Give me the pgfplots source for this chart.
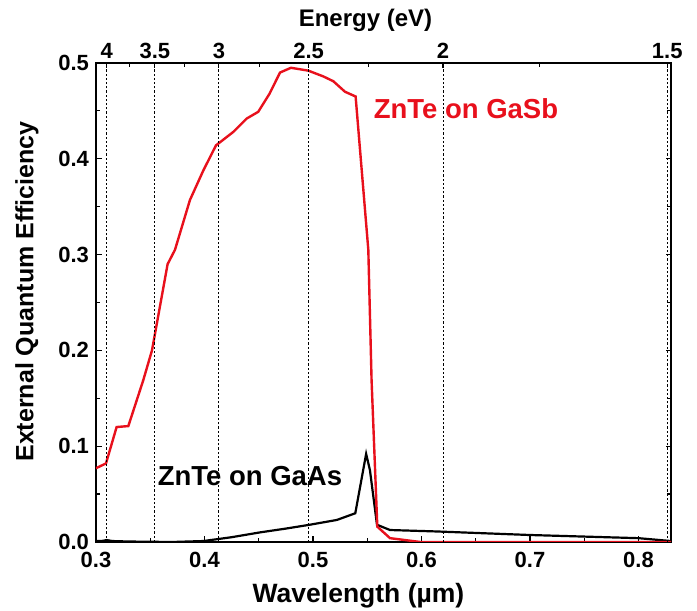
\documentclass[border=0pt]{standalone}
\usepackage{pgfplots}
\pgfplotsset{compat=1.18}
\usepackage{fontspec}
\setmainfont{Liberation Sans}
\definecolor{redline}{RGB}{232,16,28}
\begin{document}
\begin{tikzpicture}
\pgfplotsset{every axis/.append style={
  width=575pt, height=479pt, scale only axis,
  xmin=0.3, xmax=0.83,
  line width=1.5pt,
  tick style={line width=1.2pt, black},
  major tick length=5.5pt, minor tick length=4pt,
  tick align=inside,
  /pgf/number format/assume math mode=true,
  tick label style={font=\fontsize{22}{26}\selectfont\bfseries},
}}
\begin{axis}[
  name=ax,
  ymin=0, ymax=0.5,
  xtick={0.3,0.4,0.5,0.6,0.7,0.8},
  xticklabels={0.3,0.4,0.5,0.6,0.7,0.8},
  minor xtick={0.35,0.45,0.55,0.65,0.75},
  ytick={0,0.1,0.2,0.3,0.4,0.5},
  yticklabels={0.0,0.1,0.2,0.3,0.4,0.5},
  minor ytick={0.05,0.15,0.25,0.35,0.45},
  xtick pos=bottom,
  ytick pos=both,
  xticklabel style={yshift=-6pt},
  yticklabel style={xshift=-3pt},
  xlabel={Wavelength (µm)},
  ylabel={External Quantum Efficiency},
  xlabel style={font=\fontsize{26.5}{30}\selectfont\bfseries, at={(axis description cs:0.4565,0)}, anchor=base, yshift=-61pt},
  ylabel style={font=\fontsize{25}{30}\selectfont\bfseries, at={(axis description cs:-0.12,0.523)}, anchor=center},
  clip=true,
]
\addplot[black, line width=2.2pt] coordinates {
(0.300,0.001) (0.305,0.001) (0.310,0.002) (0.315,0.001) (0.330,0.0005)
(0.370,0.0) (0.399,0.001) (0.425,0.005) (0.451,0.010) (0.475,0.014)
(0.497,0.018) (0.522,0.023) (0.539,0.030) (0.549,0.092) (0.5525,0.075)
(0.559,0.018) (0.571,0.0125) (0.614,0.011) (0.700,0.0073) (0.800,0.004)
(0.826,0.0014) (0.830,0.001)
};
\addplot[redline, line width=2.4pt] coordinates {
(0.300,0.077) (0.3092,0.082) (0.319,0.120) (0.3298,0.121) (0.3436,0.169)
(0.3516,0.200) (0.366,0.290) (0.3728,0.305) (0.3866,0.357) (0.399,0.388)
(0.4106,0.414) (0.4265,0.428) (0.4389,0.442) (0.4495,0.449) (0.460,0.468)
(0.4696,0.490) (0.4797,0.495) (0.4957,0.492) (0.5095,0.486) (0.5187,0.481)
(0.5295,0.470) (0.5393,0.465) (0.551,0.305) (0.554,0.169) (0.5593,0.016)
(0.571,0.004) (0.599,0.0) (0.83,0.0)
};
\node[redline, font=\fontsize{27.5}{32}\selectfont\bfseries] at (axis cs:0.641,0.452) {ZnTe on GaSb};
\node[black, font=\fontsize{27.5}{32}\selectfont\bfseries] at (axis cs:0.4419,0.0689) {ZnTe on GaAs};
\end{axis}
\begin{axis}[
  ymin=0, ymax=0.5,
  axis x line*=top,
  axis y line=none,
  xtick={0.30995,0.35423,0.41327,0.49592,0.6199,0.82653},
  xticklabels={4,3.5,3,2.5,2,1.5},
  minor xtick={0.33061,0.38148,0.45084,0.55102,0.70846},
  xmajorgrids,
  major grid style={black, line width=0.8pt, dash pattern=on 2.2pt off 2pt},
  xlabel={Energy (eV)},
  xlabel style={font=\fontsize{24}{28}\selectfont\bfseries, at={(axis description cs:0.4687,1)}, anchor=base, yshift=36pt},
]
\end{axis}
\pgfresetboundingbox
\path[use as bounding box] ([shift={(-96pt,-69pt)}]ax.south west) rectangle ([shift={(26pt,63pt)}]ax.north east);
\end{tikzpicture}
\end{document}
